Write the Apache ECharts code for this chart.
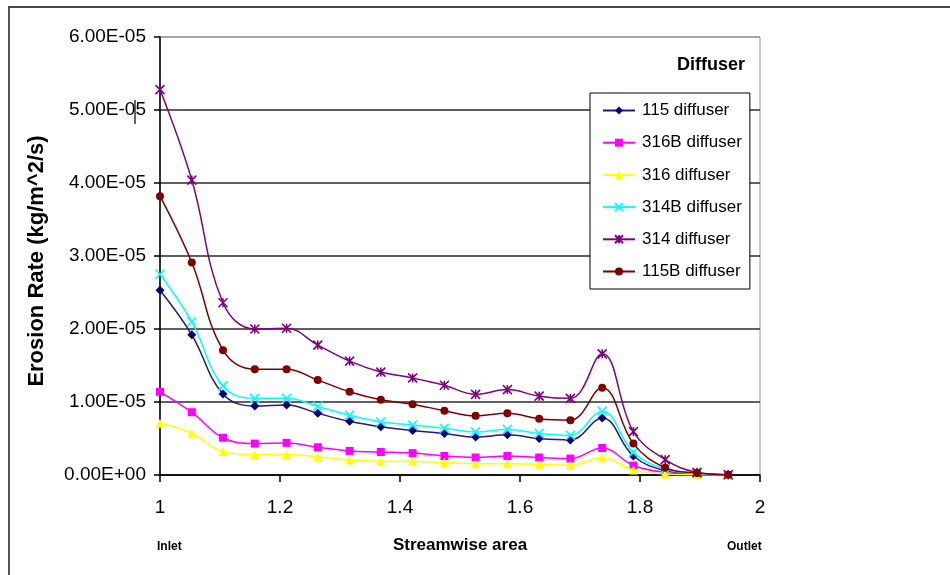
<!DOCTYPE html>
<html>
<head>
<meta charset="utf-8">
<script src="https://cdn.jsdelivr.net/npm/echarts@6/dist/echarts.min.js"></script>
<style>
html,body{margin:0;padding:0;background:#fff;}
#c{width:950px;height:575px;}
</style>
</head>
<body>
<div id="c"></div>
<script>
// Streamwise positions (x) of the sampled points
var xPos = [1, 1.053, 1.105, 1.158, 1.211, 1.263, 1.316, 1.368, 1.421, 1.474, 1.526, 1.579, 1.632, 1.684, 1.737, 1.789, 1.842, 1.895, 1.947];

var seriesNames = ['115 diffuser', '316B diffuser', '316 diffuser', '314B diffuser', '314 diffuser', '115B diffuser'];

var s115  = [2.53e-5, 1.92e-5, 1.11e-5, 0.945e-5, 0.96e-5, 0.845e-5, 0.735e-5, 0.66e-5, 0.61e-5, 0.57e-5, 0.52e-5, 0.55e-5, 0.50e-5, 0.48e-5, 0.78e-5, 0.26e-5, 0.06e-5, 0.02e-5, 0.003e-5];
var s316B = [1.14e-5, 0.86e-5, 0.51e-5, 0.43e-5, 0.44e-5, 0.38e-5, 0.33e-5, 0.315e-5, 0.30e-5, 0.26e-5, 0.24e-5, 0.26e-5, 0.24e-5, 0.225e-5, 0.37e-5, 0.13e-5, 0.035e-5, 0.01e-5, 0.002e-5];
var s316  = [0.71e-5, 0.575e-5, 0.32e-5, 0.28e-5, 0.28e-5, 0.25e-5, 0.205e-5, 0.19e-5, 0.19e-5, 0.17e-5, 0.155e-5, 0.155e-5, 0.146e-5, 0.134e-5, 0.235e-5, 0.07e-5, 0.012e-5, 0.003e-5, 0.001e-5];
var s314B = [2.75e-5, 2.10e-5, 1.22e-5, 1.05e-5, 1.05e-5, 0.94e-5, 0.82e-5, 0.73e-5, 0.685e-5, 0.64e-5, 0.59e-5, 0.625e-5, 0.57e-5, 0.545e-5, 0.875e-5, 0.31e-5, 0.08e-5, 0.02e-5, 0.003e-5];
var s314  = [5.28e-5, 4.04e-5, 2.36e-5, 2.00e-5, 2.01e-5, 1.78e-5, 1.56e-5, 1.41e-5, 1.33e-5, 1.23e-5, 1.105e-5, 1.17e-5, 1.08e-5, 1.05e-5, 1.66e-5, 0.595e-5, 0.21e-5, 0.036e-5, 0.004e-5];
var s115B = [3.82e-5, 2.91e-5, 1.71e-5, 1.45e-5, 1.45e-5, 1.30e-5, 1.14e-5, 1.03e-5, 0.97e-5, 0.88e-5, 0.81e-5, 0.845e-5, 0.77e-5, 0.75e-5, 1.195e-5, 0.43e-5, 0.10e-5, 0.027e-5, 0.004e-5];

var yTicks = { min: 0, max: 6e-5, interval: 1e-5 };
var xTicks = { min: 1, max: 2, interval: 0.2 };

function sci(v) {
  if (Math.abs(v) < 1e-15) return '0.00E+00';
  var e = Math.floor(Math.log10(Math.abs(v)) + 1e-9);
  var m = v / Math.pow(10, e);
  var es = (e < 0 ? '-' : '+') + (Math.abs(e) < 10 ? '0' : '') + Math.abs(e);
  return m.toFixed(2) + 'E' + es;
}

function pairs(arr) { return arr.map(function (v, i) { return [xPos[i], v]; }); }

var FONT = '"Liberation Sans", Arial, sans-serif';
var xMark = 'path://M0,0L10,10M10,0L0,10';
var star = 'path://M0,0L10,10M10,0L0,10M5,0L5,10';

var styles = [
  { color: '#000080', line: '#1c1c86', symbol: 'diamond', size: 9 },
  { color: '#FF00FF', line: '#FF00FF', symbol: 'rect', size: 8 },
  { color: '#FFFF00', line: '#FFFF00', symbol: 'triangle', size: 9 },
  { color: '#00FFFF', line: '#00FFFF', symbol: xMark, size: 9, stroke: true },
  { color: '#800080', line: '#800080', symbol: star, size: 9, stroke: true },
  { color: '#800000', line: '#800000', symbol: 'circle', size: 8 }
];
var dataSets = [s115, s316B, s316, s314B, s314, s115B];

var series = dataSets.map(function (d, i) {
  var st = styles[i];
  return {
    name: seriesNames[i],
    type: 'line',
    data: pairs(d),
    smooth: 0.4,
    symbol: st.symbol,
    symbolSize: st.size,
    showAllSymbol: true,
    lineStyle: { color: st.line, width: 1.5 },
    itemStyle: st.stroke ? { color: 'rgba(0,0,0,0)', borderColor: st.color, borderWidth: 1.6 } : { color: st.color, borderWidth: 0 },
    emphasis: { disabled: true },
    z: 3 + i
  };
});

var chart = echarts.init(document.getElementById('c'), null, { renderer: 'canvas' });
chart.setOption({
  animation: false,
  backgroundColor: '#fff',
  textStyle: { fontFamily: FONT },
  grid: { left: 160, right: 190, top: 37, bottom: 100, show: true, borderColor: '#999', borderWidth: 1 },
  legend: {
    orient: 'vertical',
    left: 590, top: 93,
    width: 162,
    padding: [9, 8, 9, 12],
    itemWidth: 32, itemHeight: 10, itemGap: 15.2,
    borderColor: '#000', borderWidth: 1,
    backgroundColor: '#fff',
    textStyle: { fontFamily: FONT, fontSize: 17, color: '#000', padding: [0, 0, 0, 2] },
    data: seriesNames
  },
  xAxis: {
    type: 'value',
    min: xTicks.min, max: xTicks.max, interval: xTicks.interval,
    axisLine: { show: true, onZero: false, lineStyle: { color: '#000', width: 1.5 } },
    axisTick: { show: true, inside: false, length: 7, lineStyle: { color: '#000', width: 1.5 } },
    splitLine: { show: false },
    axisLabel: { fontSize: 19, color: '#000', margin: 23, formatter: function (v) { return String(Math.round(v * 10) / 10); } },
    name: 'Streamwise area',
    nameLocation: 'middle',
    nameGap: 62,
    nameTextStyle: { fontSize: 17, fontWeight: 'bold', color: '#000' }
  },
  yAxis: {
    type: 'value',
    min: yTicks.min, max: yTicks.max, interval: yTicks.interval,
    axisLine: { show: true, lineStyle: { color: '#000', width: 1.5 } },
    axisTick: { show: true, inside: false, length: 6, lineStyle: { color: '#000', width: 1.5 } },
    splitLine: { show: true, lineStyle: { color: ['#2a2a2a', '#2a2a2a', '#2a2a2a', '#2a2a2a', '#2a2a2a', '#2a2a2a', '#999'], width: 1.5 } },
    axisLabel: { fontSize: 19, color: '#000', margin: 14, formatter: sci },
    name: 'Erosion Rate (kg/m^2/s)',
    nameLocation: 'middle',
    nameGap: 112,
    nameTextStyle: { fontSize: 22, fontWeight: 'bold', color: '#000', padding: [0, 10, 0, 0] }
  },
  graphic: [
    { type: 'rect', silent: true, z: 0, shape: { x: 9, y: 7, width: 1000, height: 1000 }, style: { fill: 'none', stroke: '#444', lineWidth: 1.8 } },
    { type: 'text', silent: true, left: 677, top: 56, style: { text: 'Diffuser', font: 'bold 18px ' + FONT, fill: '#000' } },
    { type: 'text', silent: true, left: 157, top: 541, style: { text: 'Inlet', font: 'bold 12px ' + FONT, fill: '#000' } },
    { type: 'text', silent: true, left: 727, top: 541, style: { text: 'Outlet', font: 'bold 12px ' + FONT, fill: '#000' } },
    { type: 'line', silent: true, shape: { x1: 135, y1: 100, x2: 135, y2: 124 }, style: { stroke: '#000', lineWidth: 1.2 } }
  ],
  series: series
});
</script>
</body>
</html>
